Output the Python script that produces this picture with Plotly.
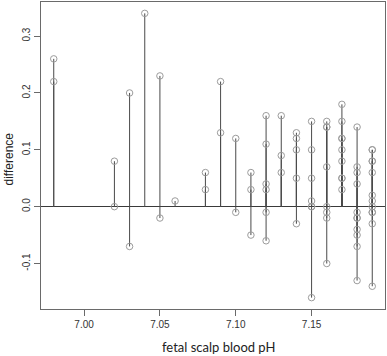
import plotly.graph_objects as go

ph = [6.98, 6.98,
      7.02, 7.02,
      7.03, 7.03,
      7.04,
      7.05, 7.05,
      7.06,
      7.08, 7.08,
      7.09, 7.09,
      7.10, 7.10,
      7.11, 7.11, 7.11,
      7.12, 7.12, 7.12, 7.12, 7.12, 7.12,
      7.13, 7.13, 7.13,
      7.14, 7.14, 7.14, 7.14, 7.14,
      7.15, 7.15, 7.15, 7.15, 7.15, 7.15, 7.15,
      7.16, 7.16, 7.16, 7.16, 7.16, 7.16, 7.16, 7.16,
      7.17, 7.17, 7.17, 7.17, 7.17, 7.17, 7.17, 7.17, 7.17,
      7.18, 7.18, 7.18, 7.18, 7.18, 7.18, 7.18, 7.18, 7.18, 7.18, 7.18,
      7.19, 7.19, 7.19, 7.19, 7.19, 7.19, 7.19, 7.19, 7.19, 7.19, 7.19, 7.19]

difference = [0.26, 0.22,
              0.08, 0.00,
              0.20, -0.07,
              0.34,
              0.23, -0.02,
              0.01,
              0.06, 0.03,
              0.22, 0.13,
              0.12, -0.01,
              0.06, 0.03, -0.05,
              0.16, 0.11, 0.04, 0.03, -0.01, -0.06,
              0.16, 0.09, 0.06,
              0.13, 0.12, 0.10, 0.05, -0.03,
              0.15, 0.10, 0.05, 0.01, 0.00, 0.00, -0.16,
              0.15, 0.14, 0.14, 0.07, 0.00, -0.01, -0.02, -0.10,
              0.18, 0.15, 0.12, 0.12, 0.10, 0.08, 0.05, 0.05, 0.03,
              0.14, 0.07, 0.06, 0.04, -0.01, -0.02, -0.02, -0.04, -0.05, -0.07, -0.13,
              0.10, 0.10, 0.08, 0.08, 0.06, 0.02, 0.01, 0.00, -0.01, -0.01, -0.03, -0.14]

x_ticks = [7.00, 7.05, 7.10, 7.15]
x_tick_labels = ["7.00", "7.05", "7.10", "7.15"]
y_ticks = [-0.1, 0.0, 0.1, 0.2, 0.3]
y_tick_labels = ["-0.1", "0.0", "0.1", "0.2", "0.3"]

# stems from zero to each value (R type="h")
stem_x, stem_y = [], []
for p, d in zip(ph, difference):
    stem_x += [p, p, None]
    stem_y += [0, d, None]

fig = go.Figure()
fig.add_trace(go.Scatter(x=stem_x, y=stem_y, mode="lines",
                         line=dict(color="#4a4a4a", width=1),
                         hoverinfo="skip", showlegend=False))
fig.add_trace(go.Scatter(x=ph, y=difference, mode="markers",
                         marker=dict(symbol="circle-open", size=6.5,
                                     color="#9c9c9c", line=dict(width=1)),
                         showlegend=False))

axis_common = dict(showline=True, mirror=True, linecolor="#6a6a6a", linewidth=1,
                   showgrid=False, ticks="outside", ticklen=6, tickcolor="#6a6a6a",
                   automargin=False,
                   tickfont=dict(family="Liberation Sans, Arial, sans-serif",
                                 size=10, color="#333333"))

fig.update_layout(
    width=387, height=356,
    margin=dict(l=41, r=2, t=2, b=47),
    paper_bgcolor="white", plot_bgcolor="white",
    xaxis=dict(range=[6.9716, 7.1984], tickvals=x_ticks, ticktext=x_tick_labels,
               zeroline=False, **axis_common),
    yaxis=dict(range=[-0.18, 0.36], tickvals=y_ticks, ticktext=y_tick_labels,
               tickangle=-90,
               zeroline=True, zerolinecolor="#3a3a3a", zerolinewidth=1,
               **axis_common),
    annotations=[
        dict(text="fetal scalp blood pH", xref="paper", yref="paper",
             x=0.5, y=0, xanchor="center", yanchor="middle",
             xshift=5, yshift=-38, showarrow=False,
             font=dict(family="Lato, Noto Sans, sans-serif", size=13,
                       color="#222222")),
        dict(text="difference", xref="paper", yref="paper",
             x=0, y=0.5, xanchor="center", yanchor="middle", textangle=-90,
             xshift=-33, yshift=-4, showarrow=False,
             font=dict(family="Liberation Sans, Arial, sans-serif", size=12,
                       color="#222222")),
    ],
)

fig.write_html(
    "out.html",
    config={"displayModeBar": False},
    post_script="document.body.style.margin='0';document.body.style.padding='0';"
                "document.body.style.overflow='hidden';",
)
